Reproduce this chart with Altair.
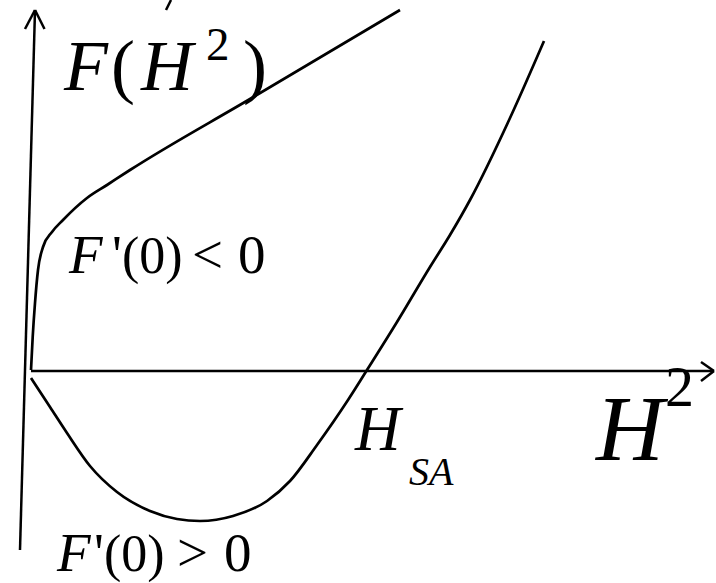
import altair as alt
import pandas as pd

W, H = 716, 583

# Curve for F'(0) < 0 (rises steeply from the origin, then straight)
upper_x = [31, 32.7, 35, 38, 43, 52, 63, 87, 107, 130, 250, 400]
upper_y = [370, 337, 303, 270, 247, 232, 220, 198, 185, 170, 99, 10]

# Curve for F'(0) > 0 (dips below zero, crosses at H_SA, then rises)
lower_x = [31, 50, 67, 90, 117, 150, 177, 200, 233, 267, 290, 317, 348, 367, 397, 430, 450, 470, 510, 544]
lower_y = [378, 407, 433, 466, 492, 511, 519, 521, 516, 501, 481, 445, 400, 370, 322, 267, 235, 200, 118, 41]

# Axes with open arrow heads
seg_x1 = [20, 35, 35, 31, 714, 714, 166]
seg_y1 = [550, 10, 10, 371, 371, 371, 10]
seg_x2 = [35, 25, 44.5, 714, 701, 701, 171]
seg_y2 = [10, 29, 29, 371, 362, 381, 0]

# Formula pieces: text, italic flag
label_text = ["F", "(", "H", "2", ")",
              "F", "'", "(", "0", ")", "<", "0",
              "F", "'", "(", "0", ")", ">", "0",
              "H", "SA",
              "H", "2"]
label_italic = [1, 0, 1, 0, 0,
                1, 0, 0, 0, 0, 0, 0,
                1, 0, 0, 0, 0, 0, 0,
                1, 1,
                1, 0]
label_x = [64, 111, 141, 206, 243,
           69, 112, 122, 139.3, 165.3, 192, 238,
           57, 94, 104, 121.3, 147.3, 177, 224,
           355, 409,
           596, 665]
label_y = [90, 90, 90, 60, 90,
           273, 273, 273, 273, 273, 273, 273,
           571, 571, 571, 571, 571, 571, 571,
           450, 485,
           460, 406]
label_size = [72, 72, 72, 47, 72,
              55, 55, 52, 52, 52, 55, 55,
              55, 55, 52, 52, 52, 55, 55,
              63, 40,
              94, 58]

curves = pd.DataFrame(
    {"x": upper_x, "y": upper_y, "curve": "upper", "i": range(len(upper_x))}
)
curves = pd.concat([
    curves,
    pd.DataFrame({"x": lower_x, "y": lower_y, "curve": "lower", "i": range(len(lower_x))}),
])
segs = pd.DataFrame({"x": seg_x1, "y": seg_y1, "x2": seg_x2, "y2": seg_y2})
labels = pd.DataFrame({"t": label_text, "it": label_italic, "x": label_x,
                       "y": label_y, "s": label_size})

xs = alt.Scale(domain=[0, W], nice=False, zero=False)
ys = alt.Scale(domain=[H, 0], nice=False, zero=False)

lines = alt.Chart(curves).mark_line(
    interpolate="monotone", color="black", strokeWidth=2.7
).encode(
    x=alt.X("x:Q", scale=xs, axis=None),
    y=alt.Y("y:Q", scale=ys, axis=None),
    detail="curve:N",
    order="i:Q",
)

axes = alt.Chart(segs).mark_rule(color="black", strokeWidth=2.5).encode(
    x=alt.X("x:Q", scale=xs, axis=None),
    y=alt.Y("y:Q", scale=ys, axis=None),
    x2="x2:Q",
    y2="y2:Q",
)


def text_layer(italic):
    return alt.Chart(labels).transform_filter(
        alt.datum.it == italic
    ).mark_text(
        font="Liberation Serif",
        fontStyle="italic" if italic else "normal",
        align="left",
        baseline="alphabetic",
        color="black",
    ).encode(
        x=alt.X("x:Q", scale=xs, axis=None),
        y=alt.Y("y:Q", scale=ys, axis=None),
        text="t:N",
        size=alt.Size("s:Q", scale=None),
    )


chart = alt.layer(lines, axes, text_layer(1), text_layer(0)).properties(
    width=W, height=H, padding=0, autosize=alt.AutoSizeParams(type="none"),
    background="white",
).configure_view(stroke=None)

chart.save("out.html", embed_options={"renderer": "svg", "actions": False})
